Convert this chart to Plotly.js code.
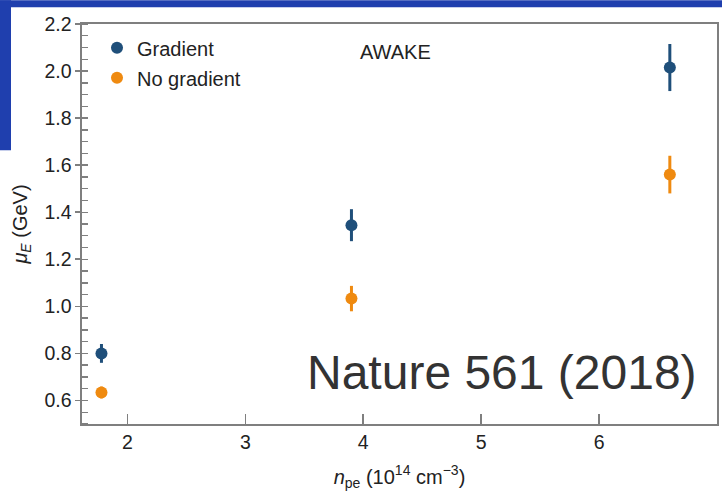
<!DOCTYPE html>
<html>
<head>
<meta charset="utf-8">
<script src="https://cdn.plot.ly/plotly-3.0.1.min.js"></script>
<style>html,body{margin:0;padding:0;background:#fff;}#chart{width:722px;height:491px;}</style>
</head>
<body>
<div id="chart"></div>
<script>
// Data
const densities = [1.78, 3.9, 6.6];
const gradientEnergy = [0.80, 1.345, 2.015];
const gradientError = [0.04, 0.068, 0.10];
const noGradientEnergy = [0.634, 1.033, 1.56];
const noGradientError = [0.025, 0.054, 0.08];
const seriesNames = ["Gradient", "No gradient"];

const FONT = "Liberation Sans, Arial, Helvetica, sans-serif";
const BLUE = "#1f4f7a";
const ORANGE = "#ef8a10";

const traces = [
  {
    x: densities, y: gradientEnergy, name: seriesNames[0], legendgroup: "g1",
    type: "scatter", mode: "markers",
    marker: {color: BLUE, size: 12},
    error_y: {type: "data", array: gradientError, visible: true, color: BLUE, thickness: 3, width: 0}
  },
  {
    x: densities, y: noGradientEnergy, name: seriesNames[1], legendgroup: "g2",
    type: "scatter", mode: "markers",
    marker: {color: ORANGE, size: 12},
    error_y: {type: "data", array: noGradientError, visible: true, color: ORANGE, thickness: 3, width: 0}
  }
];

const L = 82, R = 717, T = 23.7, B = 424, W = 722, H = 491;
const pw = R - L, ph = B - T;
const px = v => (v - L) / pw;
const py = v => (B - v) / ph;

const layout = {
  width: W, height: H,
  margin: {l: L, r: W - R, t: T, b: H - B, pad: 0},
  paper_bgcolor: "#ffffff",
  plot_bgcolor: "#ffffff",
  font: {family: FONT, size: 20, color: "#222"},
  showlegend: true,
  legend: {
    x: px(97), y: py(28), xanchor: "left", yanchor: "top",
    bgcolor: "rgba(0,0,0,0)", borderwidth: 0,
    font: {family: FONT, size: 20, color: "#222"},
    tracegroupgap: 1
  },
  xaxis: {
    range: [1.615, 7], dtick: 1, tick0: 0,
    showgrid: false, zeroline: false,
    showline: true, linecolor: "#7f7f7f", linewidth: 1.6, mirror: true,
    ticks: "inside", ticklen: 10, tickwidth: 1.6, tickcolor: "#7f7f7f",
    tickfont: {family: FONT, size: 19.5, color: "#222"},
    title: {text: "<i>n</i><sub>pe</sub> (10<sup>14</sup> cm<sup>−3</sup>)", font: {family: FONT, size: 20, color: "#222"}, standoff: 18}
  },
  yaxis: {
    range: [0.5, 2.2], dtick: 0.2, tick0: 0,
    tickformat: ".1f",
    showgrid: false, zeroline: false,
    showline: true, linecolor: "#7f7f7f", linewidth: 1.6, mirror: true,
    ticks: "outside", ticklen: 5, tickwidth: 1.6, tickcolor: "#7f7f7f",
    minor: {dtick: 0.05, ticks: "inside", ticklen: 6, tickwidth: 1.4, tickcolor: "#7f7f7f", showgrid: false},
    tickfont: {family: FONT, size: 19.5, color: "#222"},
    title: {text: "<i>μ</i><sub><i>E</i></sub> (GeV)", font: {family: FONT, size: 20, color: "#222"}, standoff: 11}
  },
  shapes: [
    {type: "rect", xref: "paper", yref: "paper", x0: px(0), x1: px(W), y0: py(7), y1: py(0), fillcolor: "#1f3fae", line: {width: 0}, layer: "below"},
    {type: "rect", xref: "paper", yref: "paper", x0: px(0), x1: px(11), y0: py(150), y1: py(0), fillcolor: "#1f3fae", line: {width: 0}, layer: "below"}
  ],
  annotations: [
    {text: "AWAKE", xref: "paper", yref: "paper", x: px(395), y: py(52), xanchor: "center", yanchor: "middle", showarrow: false, font: {family: FONT, size: 20, color: "#222"}},
    {text: "Nature 561 (2018)", xref: "paper", yref: "paper", x: px(502), y: py(372), xanchor: "center", yanchor: "middle", showarrow: false, font: {family: FONT, size: 48, color: "#333"}}
  ]
};

Plotly.newPlot("chart", traces, layout, {displayModeBar: false, staticPlot: true});
</script>
</body>
</html>
